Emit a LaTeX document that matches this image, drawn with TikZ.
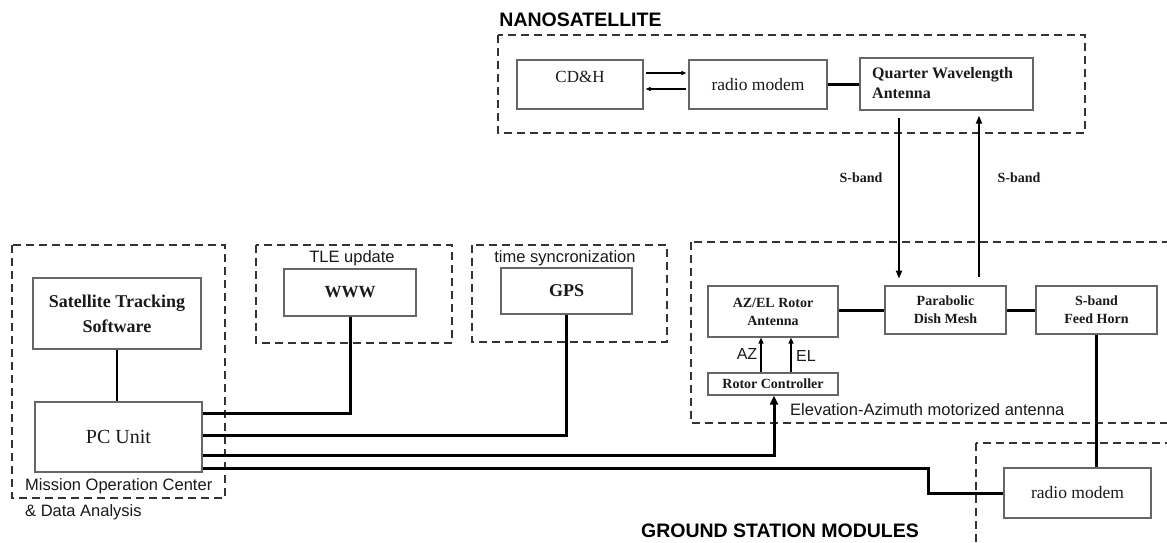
\documentclass[tikz,border=0pt]{standalone}
\usepackage{fontspec}
\setmainfont{Liberation Serif}
\setsansfont{Liberation Sans}
\usetikzlibrary{arrows.meta}
\definecolor{boxgray}{HTML}{666666}
\definecolor{dashgray}{HTML}{333333}
\definecolor{ink}{HTML}{1A1A1A}
\begin{document}
\begin{tikzpicture}[x=1pt,y=-1pt,
  box/.style={draw=boxgray, line width=1.2pt, fill=white, inner sep=0pt, text=ink, align=center},
  dbox/.style={draw=dashgray, line width=1.8pt, dash pattern=on 8pt off 5pt},
  serreg/.style={font=\fontsize{#1}{#1}\selectfont},
  serbold/.style={font=\fontsize{#1}{#1}\selectfont\bfseries},
  sanslbl/.style={font=\fontsize{16.5}{18}\sffamily, text=ink, inner sep=0pt},
  sanshead/.style={font=\fontsize{19.5}{21}\sffamily\bfseries, text=black, inner sep=0pt},
  thickc/.style={line width=3pt, black},
  thinc/.style={line width=1.5pt, black},
  sarr/.style={line width=1.8pt, -{Triangle[length=8pt,width=6pt]}},
  smallarr/.style={line width=1.2pt, -{Triangle[length=5pt,width=4pt]}},
  midarr/.style={line width=1.6pt, -{Triangle[length=6pt,width=5pt]}},
  bigarr/.style={line width=3pt, -{Triangle[length=9pt,width=8pt]}}
]
\useasboundingbox (0,0) rectangle (1167,542);
\fill[white] (0,0) rectangle (1167,542);
\begin{scope}
\clip (0,0) rectangle (1167,542);
% dashed group frames
\draw[dbox] (498,35) rectangle (1085,133);
\draw[dbox] (12,245) rectangle (225,498);
\draw[dbox] (256,245) rectangle (452,343);
\draw[dbox] (472,245) rectangle (667,342);
\draw[dbox] (691,242) rectangle (1185,423);
\draw[dbox] (976,443) rectangle (1185,560);
\end{scope}

% headings and labels
\node[sanshead] (hnano) at (580.5,20) {NANOSATELLITE};
\node[sanshead] (hgs) at (780,531) {GROUND STATION MODULES};
\node[sanslbl] (ltle) at (352,258) {TLE update};
\node[sanslbl] (ltime) at (565,258) {time syncronization};
\node[sanslbl, anchor=west] (lmoc1) at (25,486) {Mission Operation Center};
\node[sanslbl, anchor=west] (lmoc2) at (25,512) {\& Data Analysis};
\node[sanslbl, anchor=west] (lelev) at (790,410) {Elevation-Azimuth motorized antenna};
\node[sanslbl, font=\fontsize{16}{18}\sffamily] (laz) at (747,354) {AZ};
\node[sanslbl, font=\fontsize{16}{18}\sffamily] (lel) at (806,356) {EL};
\node[serbold=14, text=ink, inner sep=0pt] (ls1) at (861,178) {S-band};
\node[serbold=14, text=ink, inner sep=0pt] (ls2) at (1019,178) {S-band};

% nanosatellite boxes
\node[box, minimum width=126pt, minimum height=49pt] (cdh) at (580,84.5) {};
\node[serreg=17, text=ink, inner sep=0pt] (cdht) at (580,77) {CD\&H};
\node[box, serreg=17.5, minimum width=138pt, minimum height=49pt] (rm1) at (758,84.5) {radio modem};
\node[box, minimum width=173pt, minimum height=52pt] (qwa) at (946.5,84) {};
\node[serbold=16, text=ink, inner sep=0pt, anchor=west, align=left, font=\fontsize{16}{20}\selectfont\bfseries] (qwat) at (872,83) {Quarter Wavelength\\Antenna};

% mission operation center
\node[box, font=\fontsize{18}{25}\selectfont\bfseries, minimum width=168pt, minimum height=71pt] (sts) at (117,313.5) {Satellite Tracking\\Software};
\node[box, serreg=20, minimum width=167pt, minimum height=70pt] (pc) at (118.5,437) {PC Unit};
\node[box, serbold=17, minimum width=132pt, minimum height=47pt] (www) at (350,292.5) {WWW};
\node[box, serbold=18, minimum width=131pt, minimum height=46pt] (gps) at (566.5,291) {GPS};

% ground antenna
\node[box, font=\fontsize{14}{18}\selectfont\bfseries, minimum width=130pt, minimum height=51pt] (azel) at (773,311.5) {AZ/EL Rotor\\Antenna};
\node[box, font=\fontsize{14}{18}\selectfont\bfseries, minimum width=121pt, minimum height=48pt] (parab) at (945.5,310) {Parabolic\\Dish Mesh};
\node[box, font=\fontsize{14}{18}\selectfont\bfseries, minimum width=121pt, minimum height=48pt] (feed) at (1096.5,310) {S-band\\Feed Horn};
\node[box, serbold=14, minimum width=130pt, minimum height=22pt] (rc) at (773,384) {Rotor Controller};
\node[box, serreg=17.5, minimum width=147pt, minimum height=50pt] (gm) at (1077.5,493) {radio modem};

% connectors in nanosatellite
\draw[smallarr] ([xshift=2pt,yshift=11.5pt]cdh.east) -- ([xshift=-2pt,yshift=11.5pt]rm1.west);
\draw[smallarr] ([xshift=-2pt,yshift=-4.5pt]rm1.west) -- ([xshift=2pt,yshift=-4.5pt]cdh.east);
\draw[thickc] (rm1.east) -- (rm1.east -| qwa.west);

% S-band links
\draw[sarr] ([xshift=-47.5pt,yshift=-7pt]qwa.south) -- ++(0,161);
\draw[sarr] ([xshift=33.5pt,yshift=8pt]parab.north) -- ([xshift=32.5pt,yshift=-5pt]qwa.south);

% ground antenna connectors
\draw[thickc] (parab.west -| azel.east) -- (parab.west);
\draw[thickc] (parab.east) -- (feed.west);
\draw[midarr] ([xshift=-12pt]rc.north) -- ([xshift=-12pt]azel.south);
\draw[midarr] ([xshift=18pt]rc.north) -- ([xshift=18pt]azel.south);
\draw[thickc] (feed.south) -- (feed.south |- gm.north);

% mission operation center connectors
\draw[thinc] (sts.south) -- (sts.south |- pc.north);
\draw[thickc] ([yshift=24pt]pc.east) -| (www.south);
\draw[thickc] ([yshift=2pt]pc.east) -| (gps.south);
\draw[bigarr] ([yshift=-18pt]pc.east) -| ([xshift=1pt]rc.south);
\draw[thickc] ([yshift=-31pt]pc.east) -- ++(726,0) |- (gm.west);
\end{tikzpicture}
\end{document}
